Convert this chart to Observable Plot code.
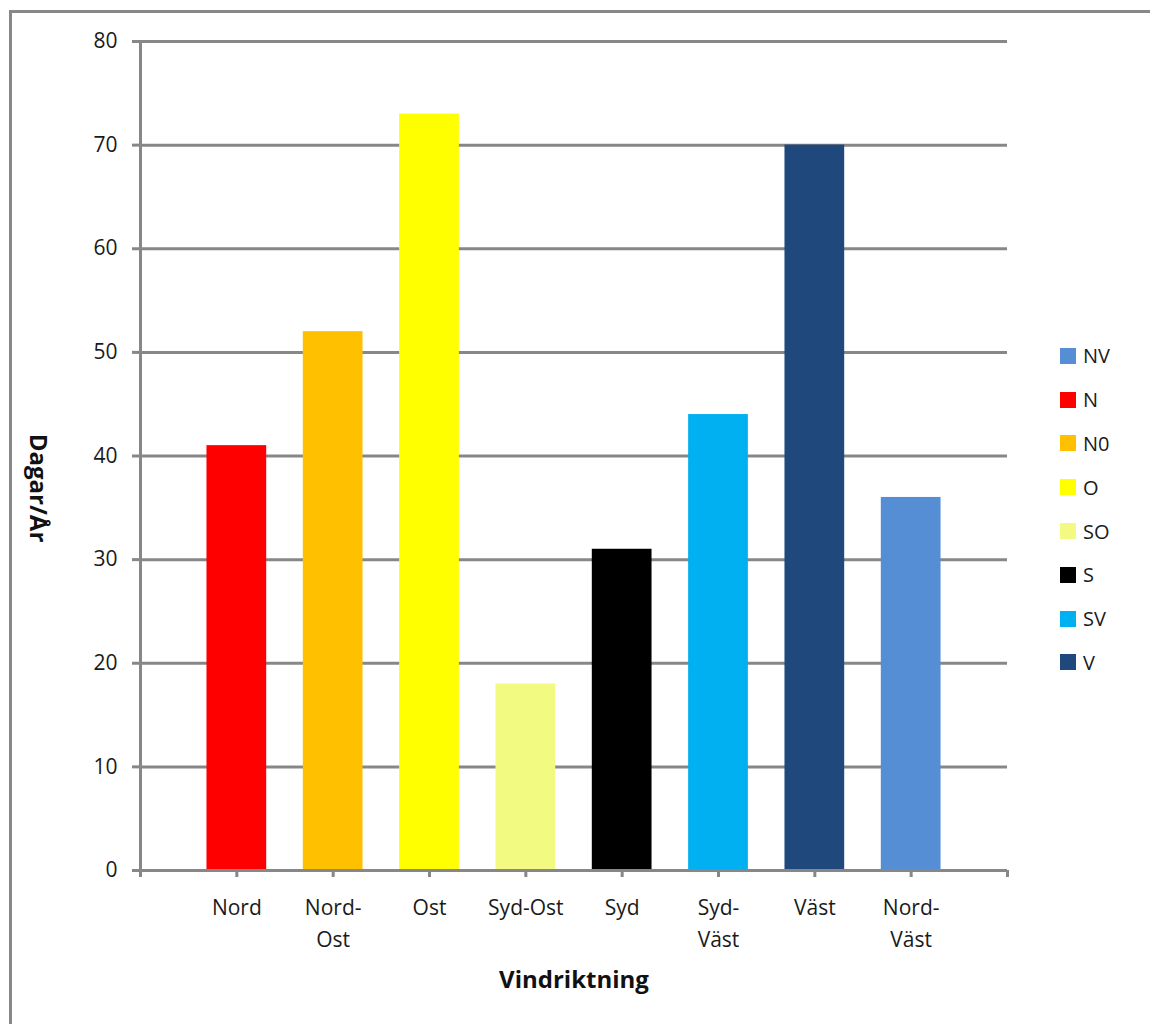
<!DOCTYPE html>
<html>
<head>
<meta charset="utf-8">
<script src="https://cdn.jsdelivr.net/npm/d3@7"></script>
<script src="https://cdn.jsdelivr.net/npm/@observablehq/plot@0.6"></script>
<style>
  html, body { margin: 0; padding: 0; background: #fff; overflow: hidden; }
  #wrap { position: relative; width: 1150px; height: 1024px; font-family: "Open Sans", sans-serif; }
  #border { position: absolute; left: 9px; top: 10px; width: 1300px; height: 1200px; border: 3px solid #888; pointer-events: none; }
  #legend { position: absolute; left: 1060px; top: 334px; }
  .item { display: flex; align-items: center; height: 43.8px; font-size: 20px; color: #1a1a1a; }
  .sw { width: 16px; height: 16px; margin-right: 7px; }
</style>
</head>
<body>
<div id="wrap">
  <div id="chart"></div>
  <div id="legend"></div>
  <div id="border"></div>
</div>
<script>
// Days per year with wind from each direction
const directions = ["Nord", "Nord-\nOst", "Ost", "Syd-Ost", "Syd", "Syd-\nVäst", "Väst", "Nord-\nVäst"];
const days = [41, 52, 73, 18, 31, 44, 70, 36];
const barColors = ["#FF0000", "#FFC000", "#FFFF00", "#F3FA82", "#000000", "#00B0F0", "#1F497D", "#558ED5"];

// Legend entries, in the order they are listed
const legendLabels = ["NV", "N", "N0", "O", "SO", "S", "SV", "V"];
const legendColors = ["#558ED5", "#FF0000", "#FFC000", "#FFFF00", "#F3FA82", "#000000", "#00B0F0", "#1F497D"];

const yTicks = [0, 10, 20, 30, 40, 50, 60, 70, 80];

// Categories sit at positions 1..8 on a 0..9 axis, leaving an empty slot at each end
const rows = directions.map((name, i) => ({ pos: i + 1, name, value: days[i], color: barColors[i] }));
const xTicks = d3.range(0, directions.length + 2);
const halfBar = 0.31;
const grey = "#878787";
const ink = "#1a1a1a";

const chart = Plot.plot({
  width: 1150,
  height: 1024,
  marginLeft: 140,
  marginRight: 143,
  marginTop: 41,
  marginBottom: 154,
  style: { fontFamily: "'Open Sans', sans-serif", background: "transparent" },
  x: { domain: [0, directions.length + 1], axis: null },
  y: { domain: [0, 80], axis: null },
  marks: [
    Plot.gridY(yTicks, { stroke: grey, strokeOpacity: 1, strokeWidth: 3 }),
    Plot.axisY({ ticks: yTicks, tickSize: 8, tickPadding: 15, stroke: grey, strokeWidth: 3, fill: ink, fontSize: 21, label: null }),
    Plot.rectY(rows, { x1: d => d.pos - halfBar, x2: d => d.pos + halfBar, y1: 0, y2: "value", fill: "color" }),
    Plot.ruleX([0], { stroke: grey, strokeWidth: 3 }),
    Plot.ruleY([0], { stroke: grey, strokeWidth: 3 }),
    Plot.axisX({
      ticks: xTicks,
      tickSize: 7,
      tickPadding: 14,
      stroke: grey,
      strokeWidth: 3,
      fill: ink,
      fontSize: 21,
      lineHeight: 1.55,
      tickFormat: i => directions[i - 1] ?? "",
      label: null
    }),
    Plot.text(["Vindriktning"], { frameAnchor: "bottom", dy: 110, lineAnchor: "middle", fontSize: 24, fontWeight: "bold", fill: "#111" }),
    Plot.text(["Dagar/År"], { frameAnchor: "left", textAnchor: "middle", dx: -103, dy: 32, rotate: 90, fontSize: 24, fontWeight: "bold", fill: "#111" })
  ]
});
document.getElementById("chart").appendChild(chart);

const legend = d3.select("#legend");
legendLabels.forEach((label, i) => {
  const item = legend.append("div").attr("class", "item");
  item.append("div").attr("class", "sw").style("background", legendColors[i]);
  item.append("span").text(label);
});
</script>
</body>
</html>
